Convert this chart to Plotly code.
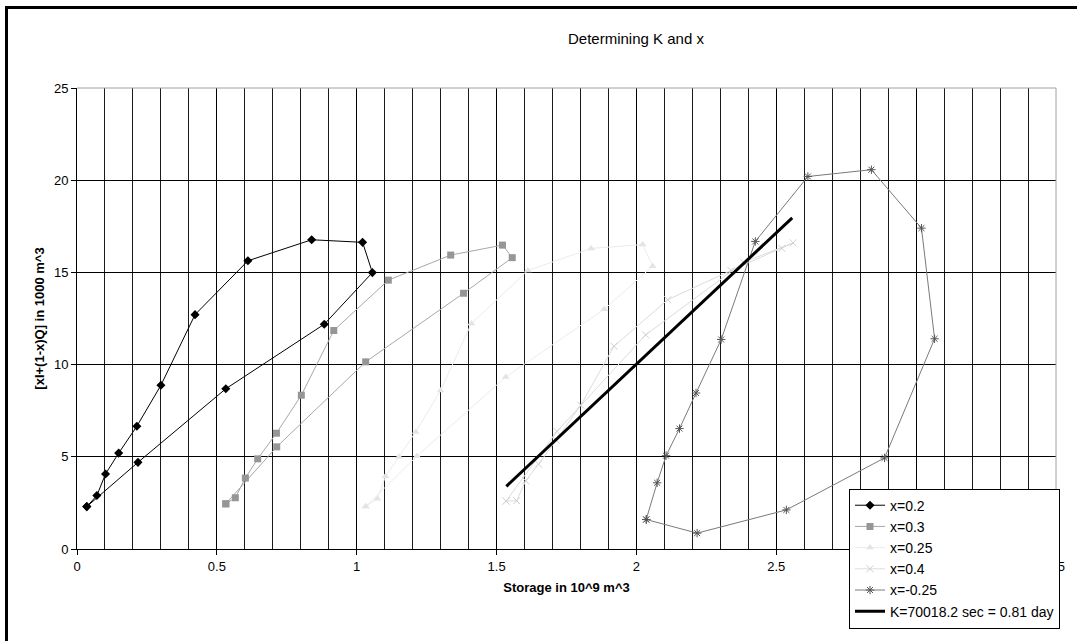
import plotly.graph_objects as go

# Storage (10^9 m^3) and [xI+(1-x)Q] (1000 m^3) for each trial x
s_x020 = [0.035, 0.071, 0.102, 0.149, 0.214, 0.300, 0.422, 0.611, 0.839, 1.021, 1.056, 0.884, 0.532, 0.218]
q_x020 = [2.30, 2.90, 4.07, 5.20, 6.66, 8.88, 12.71, 15.63, 16.77, 16.63, 14.99, 12.19, 8.69, 4.70]

s_x030 = [0.532, 0.566, 0.602, 0.646, 0.713, 0.802, 0.918, 1.113, 1.336, 1.521, 1.556, 1.382, 1.032, 0.714]
q_x030 = [2.45, 2.78, 3.85, 4.89, 6.28, 8.34, 11.85, 14.58, 15.94, 16.48, 15.80, 13.87, 10.15, 5.54]

s_x025 = [1.032, 1.074, 1.103, 1.151, 1.211, 1.300, 1.410, 1.612, 1.838, 2.022, 2.058, 1.885, 1.533, 1.216]
q_x025 = [2.30, 2.73, 3.94, 5.00, 6.35, 8.60, 12.23, 15.10, 16.30, 16.51, 15.34, 13.00, 9.33, 5.05]

s_x040 = [1.534, 1.572, 1.604, 1.650, 1.713, 1.801, 1.920, 2.112, 2.338, 2.520, 2.560, 2.383, 2.033, 1.716]
q_x040 = [2.60, 2.62, 3.70, 4.60, 5.90, 7.80, 11.00, 13.52, 15.10, 16.30, 16.60, 15.55, 11.61, 6.38]

s_xm025 = [2.035, 2.074, 2.106, 2.154, 2.213, 2.303, 2.425, 2.613, 2.840, 3.019, 3.066, 2.887, 2.536, 2.217]
q_xm025 = [1.60, 3.59, 5.06, 6.53, 8.46, 11.36, 16.68, 20.20, 20.57, 17.40, 11.40, 4.94, 2.12, 0.86]

k_line_s = [1.535, 2.557]
k_line_q = [3.40, 17.96]

series_names = ["x=0.2", "x=0.3", "x=0.25", "x=0.4", "x=-0.25"]
k_name = "K=70018.2 sec = 0.81 day"

FONT = "Liberation Sans, Arial, sans-serif"

def closed(v):
    return list(v) + [v[0]]

fig = go.Figure()

styles = [
    (s_x020, q_x020, dict(color="#000000", width=1), dict(symbol="diamond", size=7, color="#000000")),
    (s_x030, q_x030, dict(color="#a8a8a8", width=1), dict(symbol="square", size=7, color="#969696")),
    (s_x025, q_x025, dict(color="#ececec", width=1), dict(symbol="triangle-up", size=7, color="#e4e4e4")),
    (s_x040, q_x040, dict(color="#dcdcdc", width=1), dict(symbol="x-thin-open", size=7, color="#cfcfcf", line=dict(width=1, color="#cfcfcf"))),
    (s_xm025, q_xm025, dict(color="#7a7a7a", width=1), dict(symbol="asterisk-open", size=7, color="#555555", line=dict(width=1, color="#555555"))),
]

for (sx, qy, ln, mk), nm in zip(styles, series_names):
    fig.add_trace(go.Scatter(x=closed(sx), y=closed(qy), mode="lines+markers",
                             name=nm, line=ln, marker=mk))

fig.add_trace(go.Scatter(x=k_line_s, y=k_line_q, mode="lines", name=k_name,
                         line=dict(color="#000000", width=3)))

L, R, T, B = 77, 21, 88, 72
W, H = 1077 - L - R, 641 - T - B

def px2paper_x(p):
    return (p - L) / W

def px2paper_y(p):
    return (641 - B - p) / H

fig.update_layout(
    width=1077, height=641,
    margin=dict(l=L, r=R, t=T, b=B, pad=0),
    paper_bgcolor="white", plot_bgcolor="white",
    font=dict(family=FONT, color="#000000", size=13),
    title=dict(text="Determining K and x", font=dict(family=FONT, size=15, color="#000000"),
               x=568 / 1077, xanchor="left", xref="container",
               y=1 - 39 / 641, yanchor="middle", yref="container"),
    showlegend=True,
    legend=dict(x=px2paper_x(849), y=px2paper_y(506), xanchor="left", yanchor="top",
                bordercolor="#000000", borderwidth=1, bgcolor="white",
                font=dict(family=FONT, size=14, color="#000000"),
                tracegroupgap=0, itemwidth=30),
    xaxis=dict(range=[0, 3.5], dtick=0.5, tick0=0, showgrid=True, gridcolor="#000000", gridwidth=1,
               zeroline=False, showline=True, linecolor="#000000", linewidth=1,
               ticks="outside", ticklen=5, tickcolor="#000000",
               tickfont=dict(family=FONT, size=13),
               minor=dict(dtick=0.1, tick0=0, showgrid=True, gridcolor="#1a1a1a", gridwidth=1, ticks=""),
               title=dict(text="<b>Storage in 10^9 m^3</b>", font=dict(family=FONT, size=13), standoff=10)),
    yaxis=dict(range=[0, 25], dtick=5, tick0=0, showgrid=True, gridcolor="#000000", gridwidth=1,
               zeroline=False, showline=True, linecolor="#000000", linewidth=1,
               ticks="outside", ticklen=5, tickcolor="#000000",
               tickfont=dict(family=FONT, size=13),
               title=dict(text="<b>[xI+(1-x)Q] in 1000 m^3</b>", font=dict(family=FONT, size=13), standoff=6)),
    shapes=[
        dict(type="line", xref="paper", yref="paper", x0=0, x1=1, y0=1, y1=1,
             line=dict(color="#a0a0a0", width=1), layer="above"),
        dict(type="line", xref="paper", yref="paper", x0=1, x1=1, y0=0, y1=1,
             line=dict(color="#a0a0a0", width=1), layer="above"),
        dict(type="rect", xref="paper", yref="paper",
             x0=px2paper_x(6.5), x1=px2paper_x(1100), y0=px2paper_y(680), y1=px2paper_y(4),
             line=dict(color="#000000", width=3), fillcolor="rgba(0,0,0,0)", layer="above"),
    ],
)

fig.write_html("out.html")
